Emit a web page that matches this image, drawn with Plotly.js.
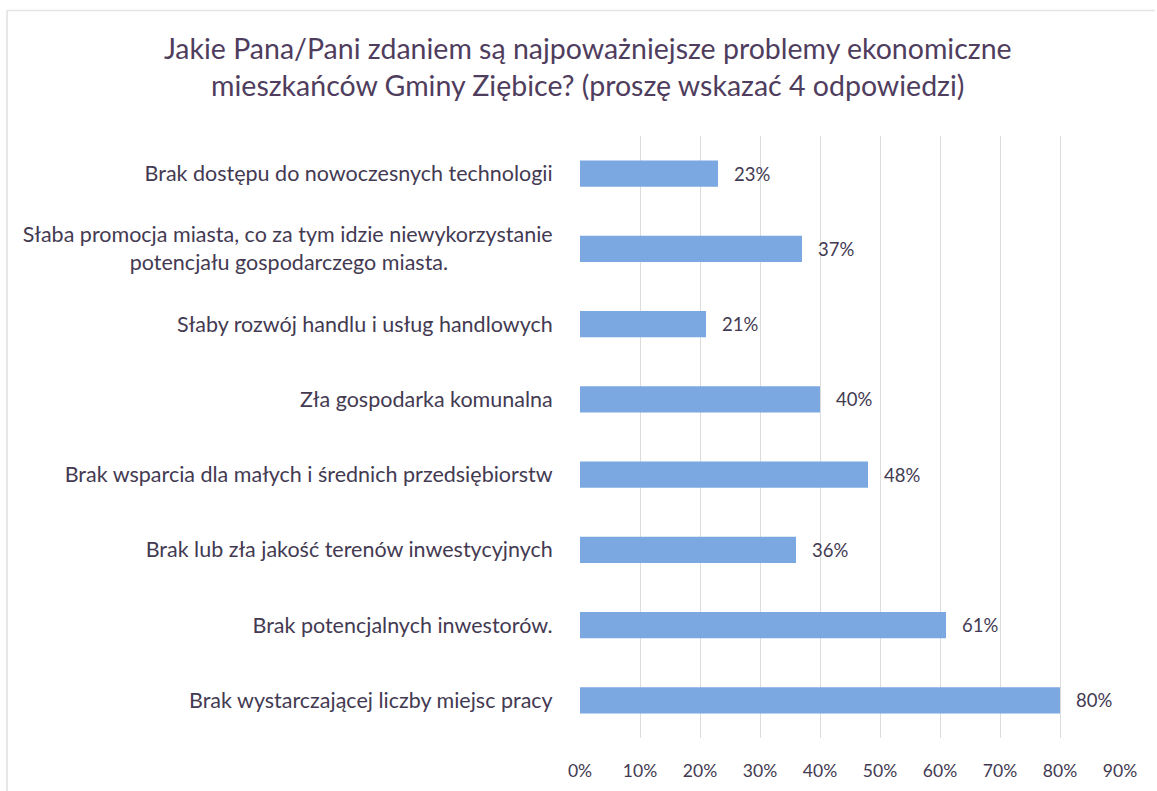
<!DOCTYPE html>
<html>
<head>
<meta charset="utf-8">
<script src="https://cdn.plot.ly/plotly-3.0.1.min.js"></script>
<style>html,body{margin:0;padding:0;background:#fff;}#chart{width:1157px;height:791px;}</style>
</head>
<body>
<div id="chart"></div>
<script>
const categories = [
  "Brak dostępu do nowoczesnych technologii",
  "Słaba promocja miasta, co za tym idzie niewykorzystanie<br>potencjału gospodarczego miasta.",
  "Słaby rozwój handlu i usług handlowych",
  "Zła gospodarka komunalna",
  "Brak wsparcia dla małych i średnich przedsiębiorstw",
  "Brak lub zła jakość terenów inwestycyjnych",
  "Brak potencjalnych inwestorów.",
  "Brak wystarczającej liczby miejsc pracy"
];
const values = [0.23, 0.37, 0.21, 0.40, 0.48, 0.36, 0.61, 0.80];
const tickVals = [0, 0.1, 0.2, 0.3, 0.4, 0.5, 0.6, 0.7, 0.8, 0.9];
const titleText = "Jakie Pana/Pani zdaniem są najpoważniejsze problemy ekonomiczne<br>mieszkańców Gminy Ziębice? (proszę wskazać 4 odpowiedzi)";

const font = "Lato, 'Open Sans', sans-serif";
const textColor = "#433a52";

// centre the lines of multi-line category labels (ticks are right-aligned)
const NBSP = "\u00A0";
const ctx = document.createElement("canvas").getContext("2d");
ctx.font = "21.5px Lato";
const nbspW = ctx.measureText(NBSP).width || 5.4;
const tickLabels = categories.map(c => {
  const lines = c.split("<br>");
  if (lines.length < 2) return c;
  const widths = lines.map(l => ctx.measureText(l).width);
  const maxW = Math.max(...widths);
  return lines.map((l, i) => l + NBSP.repeat(Math.round((maxW - widths[i]) / 2 / nbspW))).join("<br>");
});

const valueLabels = values.map((v, i) => ({
  x: v, y: categories[i], xref: "x", yref: "y",
  text: Math.round(v * 100) + "%",
  showarrow: false, xanchor: "left", yanchor: "middle",
  xshift: 14,
  font: {family: font, size: 18.5, color: textColor}
}));

Plotly.newPlot("chart", [{
  type: "bar",
  orientation: "h",
  x: values,
  y: categories,
  marker: {color: "#7ba8e1"},
  width: 0.35,
  hoverinfo: "none"
}], {
  width: 1157,
  height: 791,
  paper_bgcolor: "#fff",
  plot_bgcolor: "#fff",
  margin: {l: 580, r: 37, t: 136, b: 53, pad: 0},
  showlegend: false,
  title: {
    text: titleText,
    font: {family: font, size: 28.5, color: "#4f3d5e"},
    x: 0.508, xanchor: "center",
    y: 0.925, yanchor: "top"
  },
  xaxis: {
    range: [0, 0.9],
    tickvals: tickVals,
    tickformat: ".0%",
    showgrid: true,
    gridcolor: "#dcdcdc",
    gridwidth: 1,
    zeroline: false,
    showline: false,
    ticks: "outside",
    ticklen: 17,
    tickcolor: "rgba(0,0,0,0)",
    tickfont: {family: font, size: 17.5, color: textColor},
    fixedrange: true
  },
  yaxis: {
    autorange: "reversed",
    tickmode: "array",
    tickvals: categories,
    ticktext: tickLabels,
    ticks: "outside",
    ticklen: 22,
    tickcolor: "rgba(0,0,0,0)",
    tickfont: {family: font, size: 21.5, color: textColor},
    showgrid: false,
    showline: false,
    zeroline: false,
    fixedrange: true
  },
  annotations: valueLabels,
  shapes: [
    {type: "line", xref: "paper", yref: "paper",
     x0: -1.061, x1: -1.061, y0: -0.12, y1: 1.2085,
     line: {color: "#e0e0e0", width: 1.5}},
    {type: "line", xref: "paper", yref: "paper",
     x0: -1.061, x1: 1.065, y0: 1.2085, y1: 1.2085,
     line: {color: "#e4e4e4", width: 1.5}}
  ]
}, {displayModeBar: false, staticPlot: true});
</script>
</body>
</html>
